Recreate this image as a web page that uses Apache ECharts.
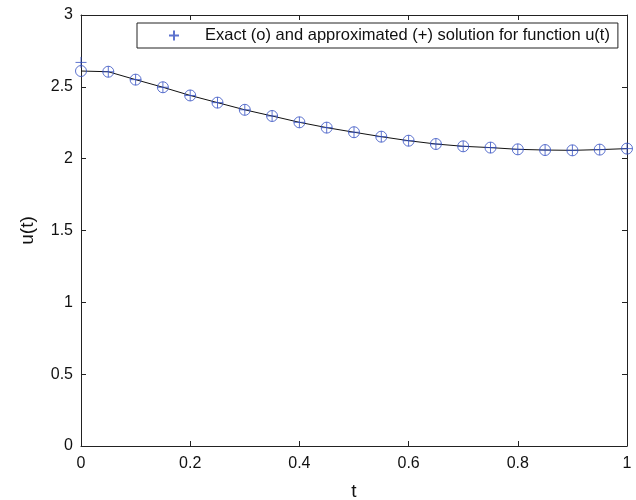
<!DOCTYPE html>
<html>
<head>
<meta charset="utf-8">
<script src="https://cdn.jsdelivr.net/npm/echarts@6/dist/echarts.min.js"></script>
<style>
  html, body { margin: 0; padding: 0; background: #fff; }
  #chart { width: 636px; height: 500px; }
</style>
</head>
<body>
<div id="chart"></div>
<script>
// t values
const tValues = [0, 0.05, 0.1, 0.15, 0.2, 0.25, 0.3, 0.35, 0.4, 0.45, 0.5,
  0.55, 0.6, 0.65, 0.7, 0.75, 0.8, 0.85, 0.9, 0.95, 1]
// exact solution (o)
const exactU = [2.61, 2.605, 2.55, 2.497, 2.44, 2.39, 2.34, 2.297, 2.253, 2.216, 2.184,
  2.153, 2.125, 2.102, 2.086, 2.077, 2.065, 2.06, 2.058, 2.063, 2.07]
// approximated solution (+)
const approxU = [2.67, 2.605, 2.55, 2.497, 2.44, 2.39, 2.34, 2.297, 2.253, 2.216, 2.184,
  2.153, 2.125, 2.102, 2.086, 2.077, 2.065, 2.06, 2.058, 2.063, 2.07]
const xTicks = [0, 0.2, 0.4, 0.6, 0.8, 1]
const yTicks = [0, 0.5, 1, 1.5, 2, 2.5, 3]

const legendText = 'Exact (o) and approximated (+) solution for function u(t)'
const blue = '#3450c2'
const plusPath = 'path://M5,0L5,10M0,5L10,5'
const font = 'Liberation Sans, Arial, sans-serif'

const pairs = (xs, ys) => xs.map((x, i) => [x, ys[i]])

const chart = echarts.init(document.getElementById('chart'))

// shared look of all four box sides
const baseAxis = {
  type: 'value',
  axisLine: { show: true, onZero: false, lineStyle: { color: '#222', width: 1 } },
  axisTick: { show: true, inside: true, length: 5, lineStyle: { color: '#222' } },
  splitLine: { show: false }
}

const option = {
  animation: false,
  backgroundColor: '#fff',
  grid: { left: 81, right: 9, top: 15, bottom: 54, containLabel: false, outerBoundsMode: 'none' },
  legend: {
    data: [legendText],
    left: 137,
    top: 23,
    orient: 'horizontal',
    backgroundColor: '#fff',
    borderColor: '#222',
    borderWidth: 1,
    borderRadius: 0,
    padding: [4, 8, 4, 31],
    icon: plusPath,
    itemWidth: 10,
    itemHeight: 10,
    textStyle: { fontFamily: font, fontSize: 16.5, color: '#111', padding: [0, 0, 0, 21] }
  },
  xAxis: [
    Object.assign({}, baseAxis, {
      min: 0, max: 1, interval: 0.2,
      name: 't', nameLocation: 'middle', nameGap: 36,
      nameTextStyle: { fontFamily: font, fontSize: 19, color: '#111' },
      axisLabel: {
        margin: 10, fontFamily: font, fontSize: 16, color: '#111',
        formatter: v => xTicks.includes(+v.toFixed(2)) ? String(+v.toFixed(2)) : ''
      }
    }),
    Object.assign({}, baseAxis, {
      position: 'top', min: 0, max: 1, interval: 0.2,
      axisLabel: { show: false }
    })
  ],
  yAxis: [
    Object.assign({}, baseAxis, {
      min: 0, max: 3, interval: 0.5,
      name: 'u(t)', nameLocation: 'middle', nameGap: 44,
      nameTextStyle: { fontFamily: font, fontSize: 19, color: '#111' },
      axisLabel: {
        margin: 8, fontFamily: font, fontSize: 16, color: '#111',
        formatter: v => yTicks.includes(+v.toFixed(2)) ? String(+v.toFixed(2)) : ''
      }
    }),
    Object.assign({}, baseAxis, {
      position: 'right', min: 0, max: 3, interval: 0.5,
      axisLabel: { show: false }
    })
  ],
  series: [
    {
      name: 'line',
      type: 'line',
      data: pairs(tValues, exactU),
      showSymbol: false,
      symbol: 'none',
      lineStyle: { color: '#111', width: 1 },
      silent: true,
      z: 1
    },
    {
      name: 'exact',
      type: 'scatter',
      data: pairs(tValues, exactU),
      symbol: 'circle',
      symbolSize: 11,
      itemStyle: { color: 'transparent', borderColor: blue, borderWidth: 1 },
      z: 2
    },
    {
      name: legendText,
      type: 'scatter',
      data: pairs(tValues, approxU),
      symbol: plusPath,
      symbolSize: 11,
      itemStyle: { color: 'transparent', borderColor: blue, borderWidth: 1 },
      z: 3
    }
  ]
}

chart.setOption(option)
</script>
</body>
</html>
